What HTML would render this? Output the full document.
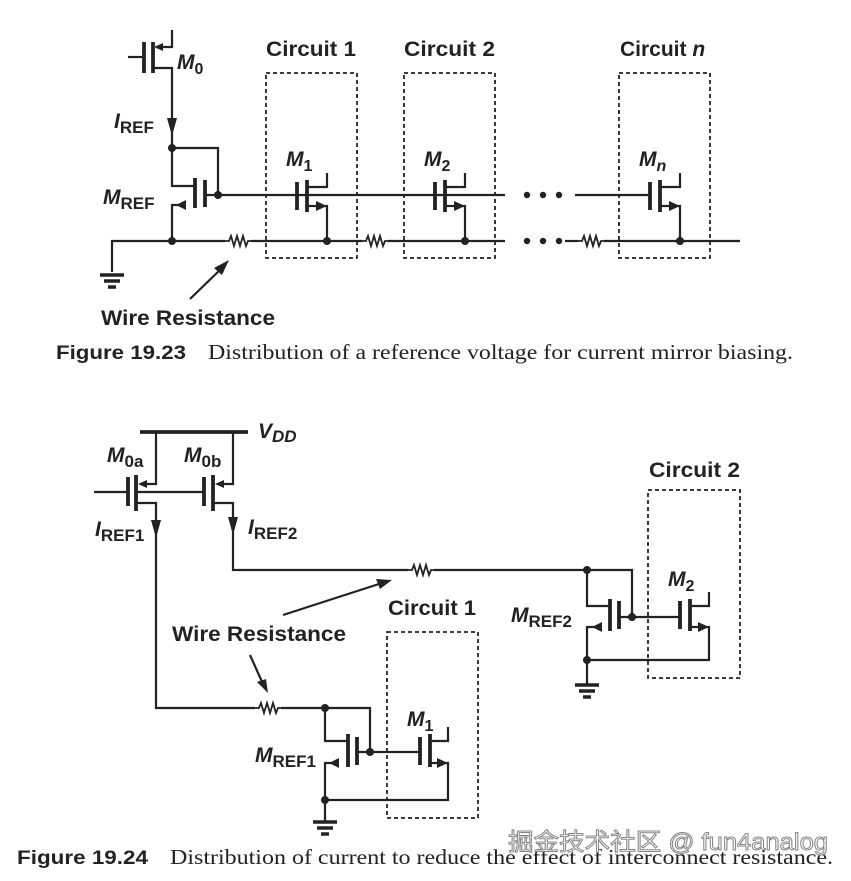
<html><body style="margin:0;background:#fff">
<svg width="851" height="881" viewBox="0 0 851 881" xmlns="http://www.w3.org/2000/svg" style="display:block">
<defs>
<g id="res"><polyline points="0,0 4,0 6,-5 9,5 12,-5 15,5 18,-5 21,5 23,0 26,0" fill="none" stroke="#222" stroke-width="1.8"/></g>
<g id="gnd"><line x1="-12" y1="0" x2="12" y2="0" stroke="#222" stroke-width="3.5"/><line x1="-8" y1="6" x2="8" y2="6" stroke="#222" stroke-width="3.5"/><line x1="-4" y1="12" x2="4" y2="12" stroke="#222" stroke-width="3.5"/></g>
</defs>
<g stroke="#222" stroke-width="2.2" fill="none">
<line x1="128" y1="57" x2="143" y2="57"/>
<line x1="144" y1="42" x2="144" y2="73" stroke-width="3.8"/>
<line x1="153" y1="42" x2="153" y2="73" stroke-width="3.8"/>
<polyline points="156,47 172,47 172,30"/>
<polyline points="153,68 172,68 172,148"/>
<polyline points="172,148 218,148 218,195"/>
<polyline points="172,148 172,186 195,186"/>
<line x1="195" y1="178" x2="195" y2="208" stroke-width="3.8"/>
<line x1="205" y1="180" x2="205" y2="207" stroke-width="3.8"/>
<polyline points="186,205 172,205 172,241"/>
<line x1="205" y1="195" x2="505" y2="195"/>
<line x1="575" y1="195" x2="650" y2="195"/>
<polyline points="112,272 112,241 225,241"/>
<line x1="251" y1="241" x2="362" y2="241"/>
<line x1="388" y1="241" x2="505" y2="241"/>
<line x1="565" y1="241" x2="578" y2="241"/>
<line x1="604" y1="241" x2="740" y2="241"/>
<line x1="297" y1="182" x2="297" y2="210" stroke-width="3.8"/>
<line x1="307" y1="180" x2="307" y2="212" stroke-width="3.8"/>
<polyline points="307,187 327,187 327,173"/>
<polyline points="307,206 318,206"/><polyline points="325,206 327,206 327,241"/>
<line x1="435" y1="182" x2="435" y2="210" stroke-width="3.8"/>
<line x1="445" y1="180" x2="445" y2="212" stroke-width="3.8"/>
<polyline points="445,187 465,187 465,173"/>
<polyline points="445,206 456,206"/><polyline points="463,206 465,206 465,241"/>
<line x1="650" y1="182" x2="650" y2="210" stroke-width="3.8"/>
<line x1="660" y1="180" x2="660" y2="212" stroke-width="3.8"/>
<polyline points="660,187 680,187 680,173"/>
<polyline points="660,206 671,206"/><polyline points="678,206 680,206 680,241"/>
<g stroke-dasharray="4,3" stroke-width="1.8">
<rect x="266" y="73" width="91" height="185"/>
<rect x="404" y="73" width="91" height="185"/>
<rect x="619" y="73" width="91" height="185"/>
</g>
<line x1="190" y1="299" x2="222" y2="268"/>

<line x1="140" y1="432" x2="248" y2="432" stroke-width="3.8"/>
<polyline points="156,432 156,484 142,484"/>
<polyline points="233,432 233,484 219,484"/>
<line x1="94" y1="492" x2="128" y2="492"/>
<line x1="136" y1="492" x2="204" y2="492"/>
<line x1="128" y1="477" x2="128" y2="506" stroke-width="3.8"/>
<line x1="136" y1="475" x2="136" y2="511" stroke-width="3.8"/>
<line x1="204" y1="477" x2="204" y2="506" stroke-width="3.8"/>
<line x1="213" y1="475" x2="213" y2="511" stroke-width="3.8"/>
<polyline points="136,503 156,503 156,708 255,708"/>
<polyline points="213,503 233,503 233,570 408,570"/>
<line x1="434" y1="570" x2="587" y2="570"/>
<polyline points="587,570 632,570 632,617"/>
<polyline points="587,570 587,606 610,606"/>
<line x1="610" y1="599" x2="610" y2="631" stroke-width="3.8"/>
<line x1="619" y1="601" x2="619" y2="629" stroke-width="3.8"/>
<line x1="619" y1="617" x2="680" y2="617"/>
<polyline points="601,627 587,627 587,685"/>
<line x1="680" y1="601" x2="680" y2="629" stroke-width="3.8"/>
<line x1="690" y1="599" x2="690" y2="631" stroke-width="3.8"/>
<polyline points="690,606 709,606 709,592"/>
<polyline points="690,627 700,627"/><polyline points="707,627 709,627 709,660 587,660"/>
<rect x="648" y="490" width="92" height="188" stroke-dasharray="4,3" stroke-width="1.8"/>
<polyline points="281,708 370,708 370,752"/>
<polyline points="325,708 325,741 348,741"/>
<line x1="348" y1="734" x2="348" y2="767" stroke-width="3.8"/>
<line x1="357" y1="737" x2="357" y2="765" stroke-width="3.8"/>
<line x1="357" y1="752" x2="420" y2="752"/>
<polyline points="339,763 325,763 325,822"/>
<line x1="420" y1="737" x2="420" y2="765" stroke-width="3.8"/>
<line x1="430" y1="734" x2="430" y2="767" stroke-width="3.8"/>
<polyline points="430,741 448,741 448,727"/>
<polyline points="430,763 440,763"/><polyline points="446,763 448,763 448,800 325,800"/>
<rect x="387" y="632" width="91" height="186" stroke-dasharray="4,3" stroke-width="1.8"/>
<line x1="283" y1="615" x2="382" y2="583"/>
<line x1="250" y1="655" x2="263" y2="684"/>
</g>
<g fill="#222">
<polygon points="154,47 163,43 163,51"/>
<polygon points="167,118 177,118 172,136"/>
<polygon points="176,205 186,200 186,210"/>
<polygon points="327,206 316,201 316,211"/>
<polygon points="465,206 454,201 454,211"/>
<polygon points="680,206 669,201 669,211"/>
<polygon points="229,260 214,268 222,275"/>
<circle cx="172" cy="148" r="4"/><circle cx="218" cy="195" r="4"/><circle cx="172" cy="241" r="4"/>
<circle cx="327" cy="241" r="4"/><circle cx="465" cy="241" r="4"/><circle cx="680" cy="241" r="4"/>
<circle cx="527" cy="195" r="3.2"/><circle cx="543" cy="195" r="3.2"/><circle cx="559" cy="195" r="3.2"/>
<circle cx="527" cy="241" r="3.2"/><circle cx="543" cy="241" r="3.2"/><circle cx="559" cy="241" r="3.2"/>
<polygon points="138,484 147,480 147,488"/>
<polygon points="215,484 224,480 224,488"/>
<polygon points="151,520 161,520 156,538"/>
<polygon points="228,517 238,517 233,535"/>
<polygon points="592,627 602,622 602,632"/>
<polygon points="709,627 698,622 698,632"/>
<polygon points="329,763 339,758 339,768"/>
<polygon points="448,763 437,758 437,768"/>
<polygon points="392,580 376,579 380,589"/>
<polygon points="268,693 257,682 266,679"/>
<circle cx="587" cy="570" r="4"/><circle cx="632" cy="617" r="4"/><circle cx="587" cy="660" r="4"/>
<circle cx="325" cy="708" r="4"/><circle cx="370" cy="752" r="4"/><circle cx="325" cy="800" r="4"/>
</g>
<use href="#res" x="225" y="241"/><use href="#res" x="362" y="241"/><use href="#res" x="578" y="241"/>
<use href="#res" x="408" y="570"/><use href="#res" x="255" y="708"/>
<use href="#gnd" x="112" y="275"/><use href="#gnd" x="587" y="685"/><use href="#gnd" x="325" y="822"/>
<g font-family="Liberation Sans, sans-serif" font-weight="bold" fill="#222" font-size="21">
<text x="266" y="56" textLength="90" lengthAdjust="spacingAndGlyphs">Circuit 1</text><text x="404" y="56" textLength="91" lengthAdjust="spacingAndGlyphs">Circuit 2</text><text x="620" y="56">Circuit <tspan font-style="italic">n</tspan></text>
<text x="177" y="69" font-style="italic">M<tspan font-size="16" font-style="normal" dy="5">0</tspan></text>
<text x="114" y="128" font-style="italic">I<tspan font-size="17" font-style="normal" dy="5">REF</tspan></text>
<text x="103" y="204" font-style="italic">M<tspan font-size="17" font-style="normal" dy="5">REF</tspan></text>
<text x="286" y="166" font-style="italic">M<tspan font-size="16" font-style="normal" dy="5">1</tspan></text>
<text x="424" y="166" font-style="italic">M<tspan font-size="16" font-style="normal" dy="5">2</tspan></text>
<text x="639" y="166" font-style="italic">M<tspan font-size="16" font-style="italic" dy="5">n</tspan></text>
<text x="101" y="325" textLength="174" lengthAdjust="spacingAndGlyphs">Wire Resistance</text>
<text x="258" y="438" font-style="italic">V<tspan font-size="17" dy="4">DD</tspan></text>
<text x="107" y="462" font-style="italic">M<tspan font-size="17" font-style="normal" dy="5">0a</tspan></text>
<text x="184" y="462" font-style="italic">M<tspan font-size="17" font-style="normal" dy="5">0b</tspan></text>
<text x="95" y="536" font-style="italic">I<tspan font-size="17" font-style="normal" dy="5">REF1</tspan></text>
<text x="248" y="534" font-style="italic">I<tspan font-size="17" font-style="normal" dy="5">REF2</tspan></text>
<text x="649" y="477" textLength="91" lengthAdjust="spacingAndGlyphs">Circuit 2</text>
<text x="388" y="615" textLength="88" lengthAdjust="spacingAndGlyphs">Circuit 1</text>
<text x="172" y="641" textLength="174" lengthAdjust="spacingAndGlyphs">Wire Resistance</text>
<text x="511" y="622" font-style="italic">M<tspan font-size="17" font-style="normal" dy="5">REF2</tspan></text>
<text x="668" y="586" font-style="italic">M<tspan font-size="16" font-style="normal" dy="5">2</tspan></text>
<text x="407" y="726" font-style="italic">M<tspan font-size="16" font-style="normal" dy="5">1</tspan></text>
<text x="255" y="762" font-style="italic">M<tspan font-size="17" font-style="normal" dy="5">REF1</tspan></text>
</g>
<g font-family="Liberation Serif, serif" font-size="21" fill="#222">
<text x="56" y="359" font-family="Liberation Sans, sans-serif" font-weight="bold" font-size="19" textLength="130" lengthAdjust="spacingAndGlyphs">Figure 19.23</text>
<text x="208" y="359" textLength="585" lengthAdjust="spacingAndGlyphs">Distribution of a reference voltage for current mirror biasing.</text>
<text x="17" y="864" font-family="Liberation Sans, sans-serif" font-weight="bold" font-size="19" textLength="131" lengthAdjust="spacingAndGlyphs">Figure 19.24</text>
<text x="170" y="864" textLength="663" lengthAdjust="spacingAndGlyphs">Distribution of current to reduce the effect of interconnect resistance.</text>
</g>
<text x="508" y="850" textLength="320" lengthAdjust="spacingAndGlyphs" font-family="Liberation Sans, 'Noto Sans CJK SC', sans-serif" font-size="24" fill="#fff" stroke="#888" stroke-width="1">掘金技术社区 @ fun4analog</text>
</svg>
</body></html>
